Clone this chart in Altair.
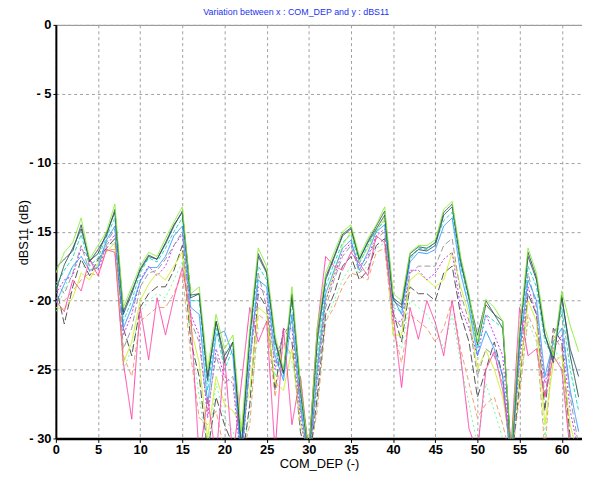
import altair as alt
import pandas as pd

com_dep = list(range(63))

lime = [-18.0,-16.5,-15.8,-14.0,-17.0,-16.0,-15.0,-13.0,-20.5,-19.0,
        -17.5,-16.5,-16.8,-15.5,-14.3,-13.2,-19.5,-19.0,-25.0,-21.0,
        -23.5,-22.5,-29.5,-22.0,-16.2,-17.5,-22.5,-25.0,-19.0,-26.0,
        -31.0,-22.0,-18.0,-16.5,-15.0,-14.5,-16.8,-15.5,-14.5,-13.2,
        -19.5,-20.0,-16.5,-16.0,-16.0,-15.6,-13.4,-12.8,-16.8,-19.5,
        -23.0,-19.9,-20.5,-21.5,-31.0,-22.0,-16.2,-18.0,-22.0,-24.0,
        -19.3,-21.8,-23.7]
slate = [-17.6,-17.0,-16.4,-14.5,-17.2,-16.3,-15.3,-13.4,-21.0,-19.5,
         -17.7,-16.7,-17.0,-15.9,-14.6,-13.5,-19.8,-19.5,-25.8,-21.5,
         -24.0,-23.0,-31.0,-22.5,-16.6,-17.9,-23.0,-25.3,-19.6,-26.5,
         -31.5,-23.0,-18.5,-16.9,-15.3,-14.8,-17.0,-15.8,-14.8,-13.8,
         -20.0,-20.5,-16.8,-16.3,-16.4,-16.0,-13.8,-13.2,-17.2,-19.8,
         -22.5,-20.0,-21.0,-21.5,-31.5,-22.5,-16.8,-18.5,-22.5,-24.5,
         -19.8,-23.5,-25.5]
blue = [-20.2,-18.8,-17.5,-16.8,-17.8,-17.6,-15.6,-14.6,-22.0,-20.5,
        -18.6,-17.6,-17.6,-16.8,-15.3,-14.6,-20.5,-21.0,-27.5,-22.5,
        -22.2,-24.0,-32.0,-24.0,-18.5,-19.0,-24.0,-25.8,-21.0,-27.5,
        -32.0,-25.0,-19.5,-17.8,-16.2,-15.6,-17.8,-16.5,-15.0,-14.5,
        -19.8,-21.0,-17.2,-16.5,-16.6,-16.3,-14.6,-14.0,-18.0,-20.5,
        -24.0,-22.2,-23.5,-25.5,-32.0,-23.5,-18.5,-20.0,-25.5,-23.0,
        -22.0,-26.5,-29.5]
cyan = [-19.0,-17.8,-16.9,-15.2,-17.5,-16.9,-15.4,-14.0,-21.5,-20.0,
        -18.0,-16.9,-17.2,-16.2,-15.0,-14.0,-20.0,-20.0,-26.5,-22.0,
        -25.0,-23.5,-30.5,-23.0,-17.5,-18.5,-23.5,-25.5,-20.0,-27.0,
        -31.0,-24.0,-19.0,-17.3,-15.8,-15.2,-17.3,-16.0,-14.9,-14.2,
        -20.5,-20.8,-17.0,-16.2,-16.3,-15.8,-14.2,-13.6,-17.5,-20.0,
        -23.5,-21.0,-21.5,-22.0,-31.0,-23.0,-17.5,-19.0,-23.0,-24.0,
        -20.5,-25.0,-28.0]
gray = [-18.6,-19.5,-18.0,-16.0,-17.9,-17.2,-15.8,-14.8,-23.5,-22.0,
        -19.0,-18.0,-17.8,-17.0,-16.0,-15.0,-21.5,-23.0,-28.0,-24.0,
        -26.0,-25.5,-31.0,-25.0,-18.0,-20.5,-24.5,-22.5,-21.5,-28.0,
        -31.5,-26.0,-20.5,-18.5,-16.8,-16.0,-18.0,-17.0,-15.5,-15.0,
        -21.0,-22.0,-18.0,-17.5,-17.5,-17.5,-16.0,-15.5,-19.5,-21.5,
        -25.5,-23.5,-24.0,-26.0,-32.0,-24.0,-18.0,-20.5,-27.0,-22.5,
        -21.0,-27.0,-30.5]
purple = [-19.5,-18.5,-18.2,-16.2,-17.0,-17.8,-16.0,-15.2,-22.5,-21.0,
          -18.5,-17.5,-18.2,-17.5,-16.0,-15.2,-21.0,-22.5,-28.5,-23.5,
          -25.5,-26.0,-32.0,-24.5,-19.0,-19.5,-25.0,-22.2,-22.0,-28.5,
          -32.0,-25.5,-20.0,-18.2,-16.5,-15.8,-17.5,-16.8,-15.3,-14.8,
          -21.5,-21.5,-17.8,-17.8,-18.5,-18.0,-17.0,-16.5,-20.5,-22.0,
          -24.0,-21.0,-22.5,-24.0,-31.5,-24.5,-19.0,-21.0,-26.0,-23.5,
          -22.5,-28.0,-31.0]
yellow = [-20.5,-20.6,-19.8,-18.0,-18.5,-17.3,-16.5,-15.8,-24.5,-23.0,
          -20.0,-18.8,-18.0,-18.5,-17.5,-16.5,-22.0,-24.5,-30.0,-25.5,
          -27.5,-28.0,-29.0,-26.5,-20.5,-21.0,-26.0,-26.5,-23.5,-29.0,
          -31.0,-24.5,-20.0,-18.0,-16.0,-15.0,-17.2,-16.2,-15.0,-14.0,
          -22.5,-22.5,-18.5,-18.0,-18.5,-19.0,-18.5,-16.5,-19.0,-21.0,
          -25.0,-23.6,-25.0,-27.0,-31.0,-25.5,-20.0,-21.5,-29.0,-24.5,
          -24.0,-29.0,-31.5]
dkgray = [-18.9,-21.7,-19.0,-17.0,-18.2,-17.0,-16.2,-15.5,-22.0,-24.0,
          -20.5,-19.5,-19.0,-19.0,-17.8,-16.0,-23.0,-25.5,-31.0,-27.0,
          -29.0,-30.5,-32.0,-27.5,-19.5,-20.5,-26.5,-22.0,-23.0,-29.5,
          -32.0,-27.0,-21.0,-19.5,-17.5,-16.8,-18.5,-17.8,-16.0,-15.5,
          -20.8,-23.0,-19.0,-19.5,-19.5,-20.0,-18.0,-17.5,-21.0,-23.0,
          -27.0,-25.0,-23.0,-25.5,-32.0,-26.0,-19.5,-21.0,-28.0,-22.0,
          -23.0,-30.0,-31.0]
orange = [-19.8,-20.0,-19.3,-18.5,-18.0,-18.2,-16.3,-16.3,-24.0,-25.5,
          -21.5,-21.0,-20.5,-20.5,-19.5,-18.0,-24.0,-28.5,-29.0,-28.0,
          -31.0,-31.0,-31.5,-29.0,-21.0,-21.5,-27.0,-23.0,-24.0,-25.5,
          -31.5,-28.0,-21.5,-20.5,-19.0,-18.0,-18.2,-18.5,-16.5,-16.2,
          -22.0,-24.5,-21.0,-21.5,-22.0,-23.0,-22.0,-20.0,-23.5,-26.0,
          -28.5,-27.5,-27.0,-29.0,-31.5,-27.0,-21.0,-22.5,-31.0,-22.5,
          -23.5,-31.0,-31.0]
ltgreen = [-20.8,-19.2,-17.5,-17.6,-17.3,-17.5,-15.9,-15.9,-25.0,-23.5,
           -20.8,-20.0,-19.5,-19.8,-18.5,-17.2,-22.5,-27.0,-31.0,-26.0,
           -28.5,-29.5,-32.0,-28.0,-22.0,-22.0,-25.5,-22.5,-24.5,-27.0,
           -32.0,-27.5,-21.5,-20.0,-18.5,-17.5,-18.0,-17.5,-16.2,-15.8,
           -22.5,-23.5,-20.0,-20.5,-21.0,-22.0,-23.5,-21.0,-24.5,-27.5,
           -30.5,-26.0,-28.0,-30.0,-32.0,-26.5,-21.5,-23.0,-30.0,-23.0,
           -25.0,-30.5,-31.5]
teal = [-19.3,-17.4,-16.2,-14.8,-17.1,-16.6,-15.1,-13.6,-20.8,-19.3,
        -17.8,-16.8,-17.0,-15.8,-14.5,-13.6,-19.6,-19.5,-25.5,-21.5,
        -24.5,-23.0,-30.5,-22.5,-16.8,-18.0,-22.8,-25.2,-19.5,-26.2,
        -31.0,-22.5,-18.3,-16.8,-15.2,-14.7,-17.0,-15.7,-14.6,-13.5,
        -19.8,-20.3,-16.6,-16.1,-16.2,-15.8,-13.6,-13.0,-17.0,-19.7,
        -23.2,-20.3,-21.0,-22.0,-31.0,-22.5,-16.5,-18.3,-22.5,-24.2,
        -19.6,-24.0,-27.0]
pink = [-20.0,-20.8,-18.5,-19.3,-17.0,-18.2,-16.3,-16.5,-24.5,-28.6,
        -20.5,-24.3,-19.8,-22.5,-19.8,-17.6,-21.0,-31.5,-27.0,-31.5,
        -24.0,-31.5,-26.0,-20.5,-23.0,-21.5,-31.0,-22.0,-29.0,-25.5,
        -31.0,-22.0,-16.8,-17.5,-17.8,-16.5,-17.3,-18.2,-15.3,-15.8,
        -21.0,-26.3,-20.5,-22.8,-20.0,-21.6,-24.0,-20.0,-24.0,-29.3,
        -31.0,-25.0,-23.7,-26.5,-30.5,-20.5,-24.0,-23.5,-27.0,-24.0,
        -25.0,-31.0,-30.5]

series = {
    "ltgreen": ltgreen, "orange": orange, "dkgray": dkgray, "yellow": yellow,
    "purple": purple, "gray": gray, "cyan": cyan, "blue": blue,
    "pink": pink, "teal": teal, "slate": slate, "lime": lime,
}

styles = {
    "ltgreen": ("#66ff99", [2, 3]),
    "orange": ("#f4a070", [5, 3]),
    "dkgray": ("#555555", [8, 3]),
    "yellow": ("#ccf020", [1, 0]),
    "purple": ("#cc33ff", [2, 2]),
    "gray": ("#999999", [6, 3]),
    "cyan": ("#22e0c0", [4, 2]),
    "blue": ("#3399ff", [1, 0]),
    "pink": ("#ff44aa", [1, 0]),
    "teal": ("#2a5a4a", [1, 0]),
    "slate": ("#30506a", [1, 0]),
    "lime": ("#88ee33", [1, 0]),
}

rows = []
for name, vals in series.items():
    for xv, yv in zip(com_dep, vals):
        rows.append({"COM_DEP": xv, "dBS11": yv, "series": name})
df = pd.DataFrame(rows)

x_enc = alt.X("COM_DEP:Q",
              scale=alt.Scale(domain=[0, 62.4], nice=False, zero=False),
              axis=alt.Axis(values=list(range(0, 61, 5)), title="COM_DEP (-)",
                            domainWidth=2.5, domainColor="black",
                            tickColor="black", tickSize=4, labelPadding=1,
                            titlePadding=1, labelFlush=False))
y_enc = alt.Y("dBS11:Q",
              scale=alt.Scale(domain=[-30, 0], nice=False, zero=False),
              axis=alt.Axis(values=list(range(-30, 1, 5)), title="dBS11 (dB)",
                            labelExpr="datum.value == 0 ? '0' : '- ' + abs(datum.value)",
                            domainWidth=2, domainColor="black",
                            tickColor="black", tickSize=3, labelPadding=2,
                            titleX=-33, titleY=210, titleBaseline="middle",
                            titleAlign="center", titleAngle=270))

layers = []
for name in series:
    color, dash = styles[name]
    layers.append(
        alt.Chart(df).transform_filter(alt.datum.series == name)
        .mark_line(color=color, strokeDash=dash, strokeWidth=1, clip=True)
        .encode(x=x_enc, y=y_enc)
    )

chart = alt.layer(*layers).properties(
    width=533, height=419,
    title=alt.TitleParams("Variation between  x : COM_DEP and y : dBS11",
                          fontSize=9, color="#2233ee", font="Liberation Sans",
                          fontWeight="normal", anchor="middle", dx=-23, offset=2),
    autosize=alt.AutoSizeParams(type="none"),
    padding={"left": 48.5, "top": 14, "right": 0, "bottom": 40},
).configure_view(stroke="#888888", strokeWidth=1).configure_axis(
    grid=True, gridDash=[3, 3], gridColor="#a0a0a0", gridWidth=1,
    labelFont="Liberation Sans", labelFontSize=13, labelFontWeight="bold",
    labelColor="black", titleFont="Liberation Sans", titleFontSize=13,
    titleFontWeight="normal", titleColor="black",
)

chart.save("out.html", embed_options={"renderer": "svg", "actions": False})
